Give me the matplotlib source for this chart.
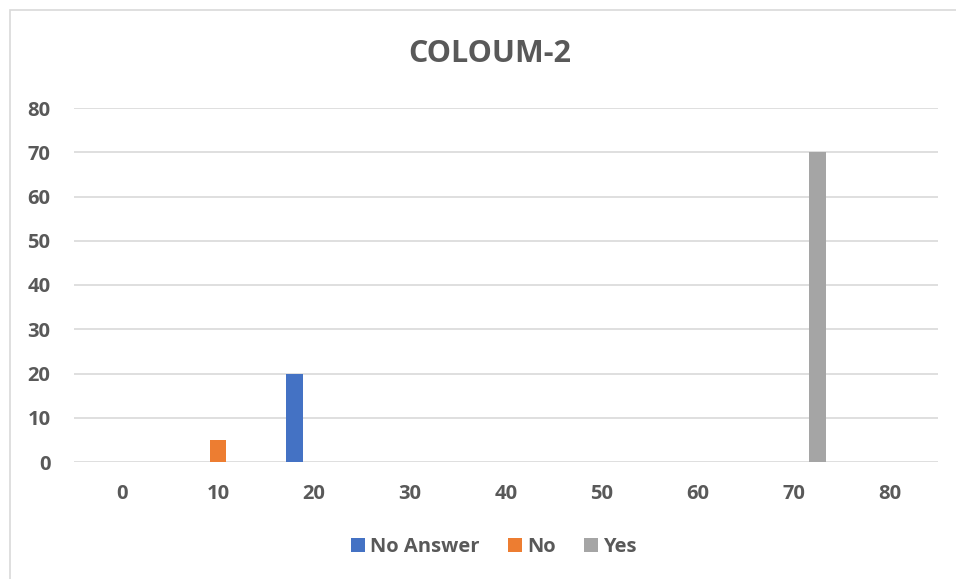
import matplotlib
matplotlib.use("Agg")
import matplotlib.pyplot as plt
from matplotlib.patches import Rectangle

# Series: (label, x position, value, colour)
series_labels = ["No Answer", "No", "Yes"]
series_x = [18, 10, 72.4]
series_values = [20, 5, 70]
series_colors = ["#4472C4", "#ED7D31", "#A5A5A5"]

x_ticks = [0, 10, 20, 30, 40, 50, 60, 70, 80]
y_ticks = [0, 10, 20, 30, 40, 50, 60, 70, 80]

title = "COLOUM-2"
text_color = "#595959"
grid_color = "#D9D9D9"

plt.rcParams["font.family"] = ["Open Sans", "DejaVu Sans"]
plt.rcParams["font.weight"] = "bold"

W, H = 956, 579
fig = plt.figure(figsize=(W / 100, H / 100), dpi=100)
fig.patch.set_facecolor("white")

# Chart-area outline (top and left edges visible)
fig.patches.append(Rectangle((10 / W, -0.1), 1.2, (H - 10) / H + 0.1,
                             transform=fig.transFigure, fill=False,
                             edgecolor=grid_color, linewidth=1.2))

left, right = 74 / W, 938 / W
bottom, top = (H - 462) / H, (H - 108) / H
ax = fig.add_axes([left, bottom, right - left, top - bottom])

for lab, xv, val, col in zip(series_labels, series_x, series_values, series_colors):
    ax.bar(xv, val, width=1.77, color=col, label=lab, zorder=3)

ax.set_xlim(-5, 85)
ax.set_ylim(0, 80)
ax.set_xticks(x_ticks)
ax.set_yticks(y_ticks)
ax.set_xticklabels([str(v) for v in x_ticks])
ax.set_yticklabels([str(v) for v in y_ticks])

ax.grid(axis="y", color=grid_color, linewidth=1.2, zorder=0)
ax.set_axisbelow(True)
for s in ["top", "right", "left", "bottom"]:
    ax.spines[s].set_visible(False)
ax.tick_params(axis="both", length=0, labelsize=14.5, labelcolor=text_color)
ax.tick_params(axis="y", pad=17)
ax.tick_params(axis="x", pad=16)
for t in ax.get_xticklabels() + ax.get_yticklabels():
    t.set_fontweight("bold")

fig.text(490 / W, 1 - 54 / H, title, ha="center", va="center",
         fontsize=22, fontweight="bold", color=text_color)

leg = fig.legend(loc="center", bbox_to_anchor=(494 / W, 1 - 547 / H),
                 ncol=3, frameon=False, fontsize=14.5,
                 handlelength=0.7, handleheight=0.7, handletextpad=0.25,
                 columnspacing=1.4)
for t in leg.get_texts():
    t.set_color(text_color)
    t.set_fontweight("bold")

fig.savefig("out.png", dpi=100, facecolor="white")
